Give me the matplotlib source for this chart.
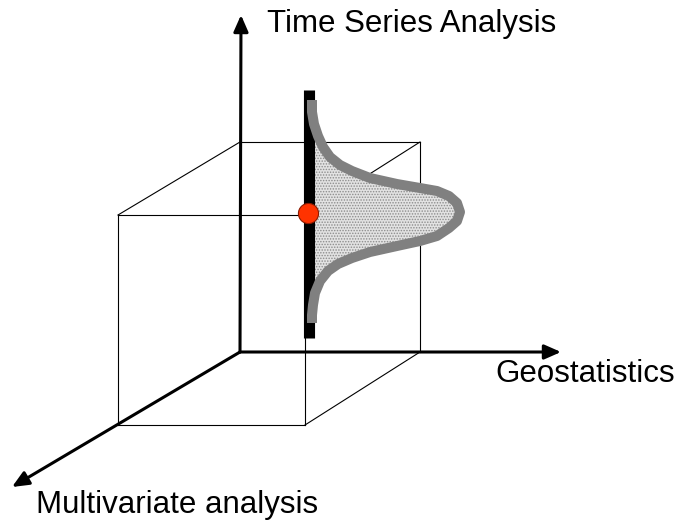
import numpy as np
import matplotlib.pyplot as plt

# diagram coordinates (pixel-like units, y grows downward)
origin = (240, 352)
tip_time = (241, 15)
tip_geo = (561, 352)
tip_multi = (12, 487)

# cube edges not lying on the axes
cube_edges = [
    [(240, 142), (420, 142)],
    [(420, 142), (420, 352)],
    [(118, 215), (118, 425)],
    [(118, 425), (305, 425)],
    [(305, 215), (305, 425)],
    [(118, 215), (305, 215)],
    [(118, 215), (240, 142)],
    [(305, 215), (420, 142)],
    [(305, 425), (420, 352)],
]

# bell-shaped profile
curve_x = np.array([312, 312, 314, 318, 323, 330, 340, 352, 370, 397, 420, 437, 449,
                    457, 460, 457, 449, 437, 420, 397, 370, 352, 338, 328, 320, 315,
                    313, 312, 312])
curve_y = np.array([100, 112, 124, 136, 147, 157, 165, 171, 178, 184, 188, 191, 196,
                    203, 212, 221, 228, 236, 241, 246, 252, 258, 264, 271, 281, 293,
                    305, 315, 323])

bar_x = 308.5
bar_y = (90, 338)
bar_right = 314
point = (308, 213)

labels = ["Time Series Analysis", "Geostatistics", "Multivariate analysis"]
label_pos = [(267, 32), (495, 382), (36, 513)]

plt.rcParams['font.family'] = ['Liberation Sans', 'DejaVu Sans']
plt.rcParams['hatch.linewidth'] = 0.7

fig = plt.figure(figsize=(6.75, 5.2), dpi=100)
ax = fig.add_axes([0, 0, 1, 1])
ax.set_xlim(0, 675)
ax.set_ylim(520, 0)
ax.axis('off')

for (p, q) in cube_edges:
    ax.plot([p[0], q[0]], [p[1], q[1]], color='black', lw=0.8, zorder=1)

# the three axes
for tip in [tip_time, tip_geo, tip_multi]:
    ax.annotate('', xy=tip, xytext=origin,
                arrowprops=dict(arrowstyle='-|>,head_length=0.5,head_width=0.22',
                                lw=2.2, color='black', mutation_scale=20,
                                shrinkA=0, shrinkB=0),
                zorder=2)

# stippled area under the profile
ax.fill_betweenx(curve_y, bar_right, curve_x, where=curve_x > bar_right,
                 facecolor='#e2e2e2', edgecolor='#8c8c8c', hatch='......',
                 linewidth=0, zorder=3)

ax.plot([bar_x, bar_x], bar_y, color='black', lw=8, solid_capstyle='butt', zorder=4)
ax.plot(curve_x, curve_y, color='#808080', lw=7.2, solid_capstyle='butt',
        solid_joinstyle='round', zorder=5)
ax.plot(point[0], point[1], 'o', ms=14.5, mfc='#ff3300', mec='#8b1a00', mew=0.8, zorder=6)

for txt, (x, y) in zip(labels, label_pos):
    ax.text(x, y, txt, fontsize=22.5, ha='left', va='baseline', color='black')

fig.savefig('out.png', dpi=100)
